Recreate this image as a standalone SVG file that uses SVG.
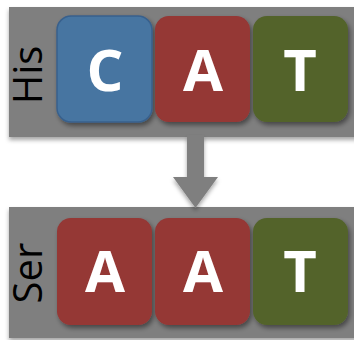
<svg xmlns="http://www.w3.org/2000/svg" width="354" height="340" viewBox="0 0 354 340">
  <defs>
    <filter id="barShadow" x="-10%" y="-20%" width="120%" height="150%">
      <feDropShadow dx="0" dy="3" stdDeviation="2" flood-color="#000" flood-opacity="0.35"/>
    </filter>
    <filter id="boxShadow" x="-20%" y="-20%" width="150%" height="150%">
      <feDropShadow dx="2" dy="3" stdDeviation="2.5" flood-color="#000" flood-opacity="0.45"/>
    </filter>
    <style>
      .bar { fill: #7f7f7f; filter: url(#barShadow); }
      .box { filter: url(#boxShadow); }
      .c { fill: #4674a1; stroke: #39608c; stroke-width: 1.5; }
      .a { fill: #953735; }
      .t { fill: #52632a; }
      .base { fill: #fff; font-family: "Open Sans", "Liberation Sans", sans-serif; font-weight: bold; font-size: 58px; text-anchor: middle; }
      .aa { fill: #000; font-family: "Open Sans", "Liberation Sans", sans-serif; font-size: 40px; text-anchor: middle; }
    </style>
  </defs>

  <!-- codon strips -->
  <rect id="bar-his" class="bar" x="9" y="7" width="360" height="130"/>
  <rect id="bar-ser" class="bar" x="9" y="207" width="360" height="131"/>

  <!-- connector -->
  <g id="connectors">
    <path class="bar" d="M187,135 H204 V177 H218 L195.5,208 L173,177 H187 Z"/>
  </g>

  <!-- top codon: CAT = His -->
  <g id="his-label">
    <text class="aa" transform="translate(42,75) rotate(-90)">His</text>
  </g>
  <g id="his-c" class="box">
    <rect class="c" x="57" y="16" width="95" height="106" rx="14"/>
    <text class="base" x="105" y="91">C</text>
  </g>
  <g id="his-a" class="box">
    <rect class="a" x="155" y="16" width="95" height="106" rx="14"/>
    <text class="base" x="203" y="91">A</text>
  </g>
  <g id="his-t" class="box">
    <rect class="t" x="253" y="16" width="95" height="106" rx="14"/>
    <text class="base" x="300" y="91">T</text>
  </g>

  <!-- bottom codon: AAT = Ser -->
  <g id="ser-label">
    <text class="aa" transform="translate(42,273) rotate(-90)">Ser</text>
  </g>
  <g id="ser-a1" class="box">
    <rect class="a" x="57" y="218" width="95" height="107" rx="14"/>
    <text class="base" x="105" y="292">A</text>
  </g>
  <g id="ser-a2" class="box">
    <rect class="a" x="155" y="218" width="95" height="107" rx="14"/>
    <text class="base" x="203" y="292">A</text>
  </g>
  <g id="ser-t" class="box">
    <rect class="t" x="253" y="218" width="95" height="107" rx="14"/>
    <text class="base" x="300" y="292">T</text>
  </g>
</svg>
